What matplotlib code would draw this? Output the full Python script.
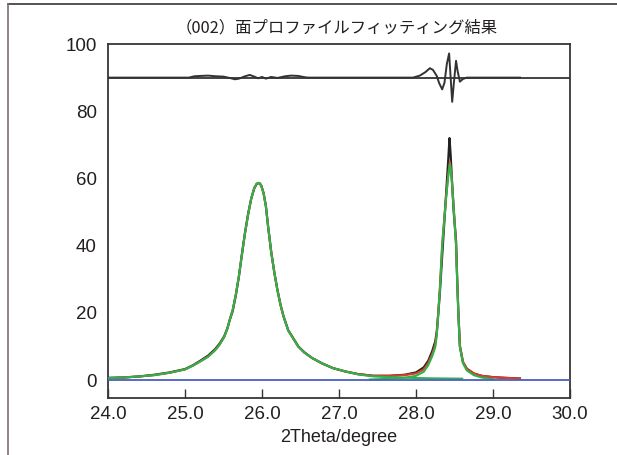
import matplotlib
matplotlib.use("Agg")
import matplotlib.pyplot as plt
from matplotlib.lines import Line2D

plt.rcParams['font.family'] = ['Liberation Sans', 'DejaVu Sans']

# 全体フィット (赤)
fit_x = [24.0, 24.2, 24.4, 24.6, 24.8, 25.0, 25.1, 25.2, 25.3, 25.39, 25.45, 25.51, 25.55,
         25.58, 25.62, 25.66, 25.70, 25.74, 25.78, 25.82, 25.86, 25.90, 25.93, 25.95, 25.97,
         25.99, 26.02, 26.05, 26.08, 26.12, 26.16, 26.20, 26.24, 26.28, 26.34, 26.40, 26.47,
         26.55, 26.65, 26.78, 26.92, 27.08, 27.25, 27.45, 27.65, 27.85, 28.0, 28.1, 28.16,
         28.21, 28.25, 28.27, 28.29, 28.31, 28.34, 28.365, 28.39, 28.42, 28.44, 28.46, 28.49,
         28.52, 28.535, 28.55, 28.57, 28.61, 28.66, 28.75, 28.85, 29.0, 29.15, 29.35]
fit_y = [0.6, 0.8, 1.1, 1.5, 2.2, 3.2, 4.3, 5.6, 7.0, 8.9, 10.6, 12.9, 15.3,
         17.9, 21.0, 25.5, 31.0, 37.5, 43.8, 49.3, 54.0, 57.2, 58.4, 58.7, 58.6,
         57.9, 55.6, 51.8, 45.5, 38.0, 32.0, 26.8, 22.4, 18.9, 14.8, 12.6, 10.0,
         8.2, 6.6, 5.0, 3.6, 2.6, 1.8, 1.3, 1.3, 1.5, 2.0, 3.2, 5.2,
         7.8, 10.5, 14.0, 20.5, 27.5, 40.5, 47.5, 54.5, 61.5, 65.0, 61.5, 51.5,
         40.5, 30.0, 20.5, 10.5, 5.5, 3.4, 2.0, 1.3, 0.9, 0.7, 0.5]

# 実測 (黒)
obs_x = [24.0, 24.2, 24.4, 24.6, 24.8, 25.0, 25.1, 25.2, 25.3, 25.39, 25.45, 25.51, 25.55,
         25.58, 25.62, 25.66, 25.70, 25.74, 25.78, 25.82, 25.86, 25.90, 25.93, 25.95, 25.97,
         25.99, 26.02, 26.05, 26.08, 26.12, 26.16, 26.20, 26.24, 26.28, 26.34, 26.40, 26.47,
         26.55, 26.65, 26.78, 26.92, 27.08, 27.25, 27.45, 27.65, 27.85, 28.0, 28.1, 28.16,
         28.21, 28.25, 28.27, 28.29, 28.31, 28.34, 28.365, 28.39, 28.42, 28.435, 28.45, 28.47,
         28.49, 28.52, 28.535, 28.55, 28.57, 28.61, 28.66, 28.75, 28.85, 29.0, 29.15, 29.35]
obs_y = [0.7, 0.8, 1.1, 1.6, 2.3, 3.3, 4.4, 5.8, 7.3, 9.2, 10.9, 13.1, 15.4,
         17.8, 20.6, 25.2, 30.8, 37.6, 44.0, 49.5, 54.0, 57.1, 58.3, 58.6, 58.5,
         57.9, 55.7, 51.9, 45.6, 38.1, 32.1, 26.9, 22.5, 19.0, 14.9, 12.7, 10.1,
         8.3, 6.6, 5.0, 3.6, 2.6, 1.8, 1.3, 1.3, 1.6, 2.3, 3.8, 5.8,
         8.6, 11.5, 14.5, 20.0, 26.0, 37.0, 46.0, 55.0, 66.0, 72.0, 67.0, 58.0,
         50.0, 41.5, 30.0, 20.0, 10.0, 5.3, 3.4, 2.0, 1.3, 0.9, 0.7, 0.5]

# 成分1 (緑)
comp1_x = [24.0, 24.2, 24.4, 24.6, 24.8, 25.0, 25.1, 25.2, 25.3, 25.39, 25.45, 25.51, 25.55,
           25.58, 25.62, 25.66, 25.70, 25.74, 25.78, 25.82, 25.86, 25.90, 25.93, 25.95, 25.97,
           25.99, 26.02, 26.05, 26.08, 26.12, 26.16, 26.20, 26.24, 26.28, 26.34, 26.40, 26.47,
           26.55, 26.65, 26.78, 26.92, 27.08, 27.25, 27.45, 27.65, 27.85, 28.0, 28.2, 28.4,
           28.6]
comp1_y = [0.6, 0.8, 1.1, 1.5, 2.2, 3.2, 4.3, 5.6, 7.0, 8.9, 10.6, 12.9, 15.3,
           17.9, 21.0, 25.5, 31.0, 37.5, 43.8, 49.3, 54.0, 57.2, 58.4, 58.7, 58.6,
           57.9, 55.6, 51.8, 45.5, 38.0, 32.0, 26.8, 22.4, 18.9, 14.8, 12.6, 10.0,
           8.2, 6.6, 5.0, 3.6, 2.6, 1.7, 1.1, 0.9, 0.75, 0.65, 0.55, 0.5,
           0.45]

# 成分2 (緑)
comp2_x = [27.4, 27.65, 27.85, 28.0, 28.1, 28.16, 28.21, 28.25, 28.27, 28.29, 28.31, 28.34,
           28.365, 28.39, 28.42, 28.44, 28.46, 28.49, 28.52, 28.535, 28.55, 28.57, 28.61,
           28.66, 28.75, 28.85, 29.0]
comp2_y = [0.2, 0.4, 0.7, 1.3, 2.5, 4.5, 7.1, 9.8, 13.4, 19.9, 26.9, 39.9,
           46.9, 53.9, 60.9, 64.4, 60.9, 50.9, 39.9, 29.4, 19.9, 9.9, 5.0,
           2.9, 1.5, 0.8, 0.3]

# バックグラウンド (青)
bg_x = [24.0, 30.0]
bg_y = [0.0, 0.0]

# 残差 (90 オフセット)
res_x = [24.0, 25.05, 25.12, 25.2, 25.3, 25.4, 25.5, 25.58, 25.65, 25.7, 25.78, 25.84, 25.9,
         25.95, 26.0, 26.05, 26.12, 26.2, 26.3, 26.38, 26.47, 26.56, 26.6, 27.96, 28.05,
         28.12, 28.18, 28.22, 28.27, 28.30, 28.34, 28.37, 28.40, 28.43, 28.45, 28.47, 28.49,
         28.52, 28.54, 28.57, 28.61, 28.66, 29.35]
res_y = [90.0, 90.0, 90.4, 90.5, 90.6, 90.4, 90.3, 89.9, 89.5, 89.7, 90.4, 90.8, 90.3,
         89.8, 90.2, 89.7, 90.2, 89.9, 90.4, 90.6, 90.5, 90.1, 90.0, 90.0, 90.6,
         91.6, 92.8, 92.3, 90.5, 88.4, 86.5, 88.5, 94.0, 97.2, 90.0, 82.8, 88.0,
         95.0, 92.0, 88.8, 89.6, 90.0, 90.0]
res_base = 90

x_ticks = [24.0, 25.0, 26.0, 27.0, 28.0, 29.0, 30.0]
y_ticks = [0, 20, 40, 60, 80, 100]

fig = plt.figure(figsize=(6.17, 4.55), dpi=100)
ax = fig.add_axes([108 / 617, 1 - 398 / 455, 462 / 617, 354 / 455])

ax.plot(obs_x, obs_y, color='#222222', lw=1.6, zorder=2)
ax.plot(fit_x, fit_y, color='#e03a2a', lw=1.5, zorder=3)
ax.plot(comp1_x, comp1_y, color='#2db34a', lw=1.5, zorder=4)
ax.plot(comp2_x, comp2_y, color='#2db34a', lw=1.5, zorder=4)
ax.plot(bg_x, bg_y, color='#4a5fc1', lw=1.3, zorder=5)
ax.axhline(res_base, color='#222222', lw=1.2, zorder=2)
ax.plot(res_x, res_y, color='#333333', lw=1.4, zorder=3)

ax.set_xlim(24.0, 30.0)
ax.set_ylim(-5.3, 100)
ax.set_xticks(x_ticks)
ax.set_xticklabels([f'{t:.1f}' for t in x_ticks])
ax.set_yticks(y_ticks)
ax.tick_params(axis='x', direction='in', length=6.5, width=1.0, color='#333333',
               labelsize=13.5, pad=6, labelcolor='#231f20')
ax.tick_params(axis='y', length=0, labelsize=13.5, pad=8, labelcolor='#231f20')
for s in ax.spines.values():
    s.set_color('#3a3535')
    s.set_linewidth(1.3)

ax.set_xlabel('2Theta/degree', fontsize=13, color='#231f20', labelpad=4)
fig.text(337 / 617, 1 - 28 / 455, '（002）面プロファイルフィッティング結果',
         family=['Noto Sans CJK JP', 'DejaVu Sans'], fontsize=11.8, color='#231f20',
         ha='center', va='center')

# 外枠
fig.add_artist(Line2D([8 / 617, 1.0], [1 - 4 / 455, 1 - 4 / 455], color='#3a3535', lw=1.2))
fig.add_artist(Line2D([8 / 617, 8 / 617], [0.0, 1 - 4 / 455], color='#7a7070', lw=1.2))

fig.savefig('out.png', dpi=100)
